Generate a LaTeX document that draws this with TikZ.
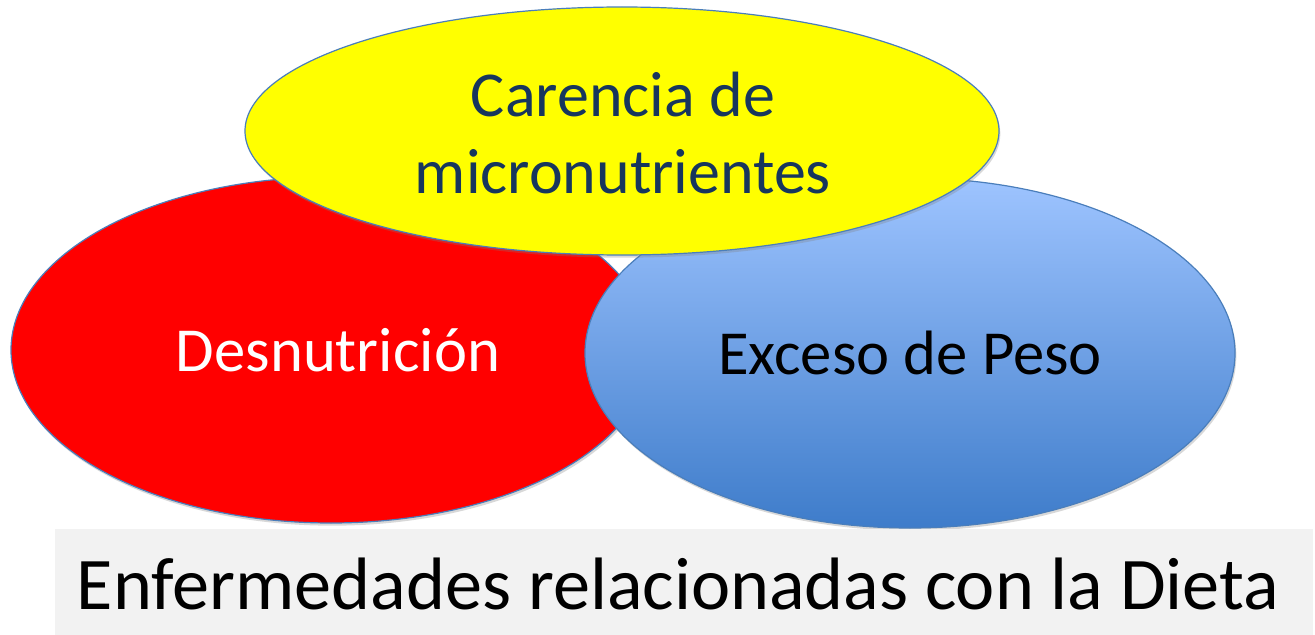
\documentclass[tikz,border=0pt]{standalone}
\usepackage{fontspec}
\setmainfont{Carlito}
\usetikzlibrary{shapes.geometric,shadows}
\definecolor{edge}{RGB}{74,126,187}
\definecolor{navy}{RGB}{23,54,93}
\definecolor{bluetop}{RGB}{158,196,255}
\definecolor{bluebot}{RGB}{62,124,202}
\definecolor{panel}{RGB}{242,242,242}
\definecolor{yel}{RGB}{255,255,0}
\tikzset{
  blob/.style={ellipse, draw=edge, line width=0.9pt, inner sep=0pt,
    drop shadow={opacity=0.3, shadow xshift=1pt, shadow yshift=-2pt}},
  lbl/.style={anchor=base, inner sep=0pt, font=\fontsize{47}{56}\selectfont},
}
\begin{document}
\begin{tikzpicture}[x=0.75pt,y=-0.75pt]
\useasboundingbox (0,0) rectangle (1315,635);
\fill[white] (0,0) rectangle (1315,635);
\node[blob, fill=red, minimum width=480pt, minimum height=259.5pt] (red) at (331,350) {};
\node[blob, top color=bluetop, bottom color=bluebot, minimum width=487.5pt, minimum height=262.5pt] (blue) at (910,353) {};
\node[blob, fill=yel, minimum width=565.5pt, minimum height=186pt] (yellowblob) at (622,131) {};
\node[lbl, text=white] (t1) at (338,371) {Desnutrición};
\node[lbl, text=black] (t2) at (910,374) {Exceso de Peso};
\node[anchor=center, align=center, inner sep=0pt, text=navy, font=\fontsize{48}{57.75}\selectfont] (t3) at (623,133) {Carencia de\\micronutrientes};
\node[fill=panel, inner sep=0pt, anchor=north west, minimum width=943.5pt, minimum height=80pt] (panel) at (55,529) {};
\node[anchor=base, inner sep=0pt, text=black, font=\fontsize{55.7}{66}\selectfont] (title) at (678,609) {Enfermedades relacionadas con la Dieta};
\end{tikzpicture}
\end{document}
